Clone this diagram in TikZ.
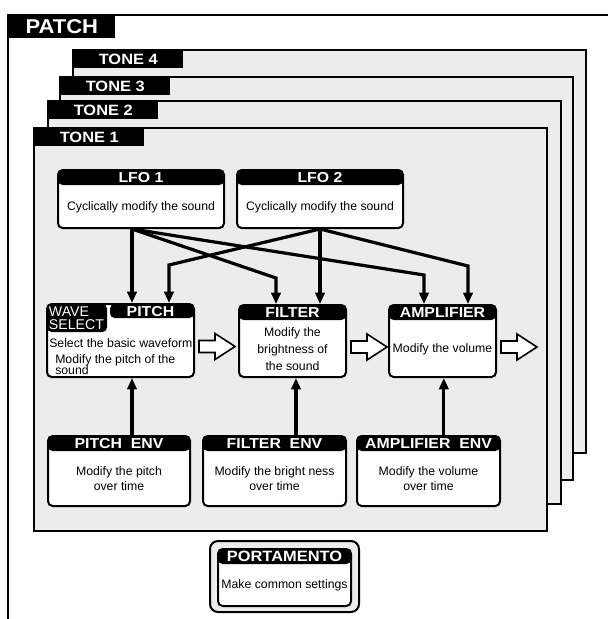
\documentclass[tikz,border=0pt]{standalone}
\usepackage{fontspec}
\setmainfont{Liberation Sans}
\newfontfamily\headfont{Liberation Sans}[FakeStretch=1.1]
\usetikzlibrary{arrows.meta}
\definecolor{tonegrey}{HTML}{ECECEC}

\begin{document}
\begin{tikzpicture}[
        x=0.75pt, y=-0.75pt,
        frame/.style={line width=1.5pt},
        tonebox/.style={draw, line width=1.5pt, fill=tonegrey},
        tonelabel/.style={anchor=north west, fill=black, text=white, inner sep=0pt,
            minimum width=82.5pt, minimum height=13.5pt,
            font=\headfont\bfseries\fontsize{11.2}{13}\selectfont},
        module/.style={draw, line width=1.5pt, fill=white, rounded corners=3.5pt, inner sep=0pt,
            path picture={\fill[black] (path picture bounding box.north west) rectangle ([yshift=-11.25pt]path picture bounding box.north east);}},
        head/.style={anchor=north, inner sep=0pt, minimum height=12pt, text=white,
            font=\headfont\bfseries\fontsize{10.8}{12}\selectfont},
        body/.style={anchor=center, yshift=-6pt, inner sep=0pt, align=center,
            font=\fontsize{9.2}{11.25}\selectfont},
        wavetext/.style={anchor=north west, xshift=2pt, yshift=-2.5pt, inner sep=0pt, align=left,
            text=white, font=\fontsize{10.6}{9.75}\selectfont},
        pitchbody/.style={anchor=north west, xshift=2.25pt, yshift=-26.5pt, inner sep=0pt, align=left,
            font=\fontsize{9.2}{12}\selectfont},
        lfoarrow/.style={line width=2.4pt, -{Triangle[width=7pt,length=8.5pt]}},
        hollowarrow/.style={draw, line width=1.2pt, fill=white, line join=miter}
    ]
    \useasboundingbox (0,0) rectangle (608,619);

    \draw[frame] (608,15) -- (8,15) -- (8,619);
    \node[tonelabel, minimum width=80.25pt, minimum height=17.25pt,
        font=\headfont\bfseries\fontsize{15}{17}\selectfont] (patch) at (8,15) {PATCH};

    \foreach \n/\l/\t/\r/\b in {4/73/50/586/453, 3/60/77/573/480, 2/48/101/561/504, 1/34/128/547/531} {
        \draw[tonebox] (\l,\t) rectangle (\r,\b);
        \node[tonelabel] (tone\n) at (\l,\t) {TONE \n};
    }

    \node[module, minimum width=124.5pt, minimum height=43.5pt,
        label={[head]north:LFO 1},
        label={[body]center:Cyclically modify the sound}] (lfo1) at (141,199) {};
    \node[module, minimum width=124.5pt, minimum height=43.5pt,
        label={[head]north:LFO 2},
        label={[body]center:Cyclically modify the sound}] (lfo2) at (320,199) {};

    \node[module, minimum width=110.25pt, minimum height=54.75pt,
        path picture={
            \fill[black] (path picture bounding box.north west) rectangle ([xshift=45pt, yshift=-21pt]path picture bounding box.north west);
            \fill[black] ([xshift=47.25pt]path picture bounding box.north west) rectangle ([yshift=-10.5pt]path picture bounding box.north east);},
        label={[head, xshift=22.5pt]north:PITCH},
        label={[wavetext]north west:WAVE\\SELECT},
        label={[pitchbody]north west:Select the basic waveform\\\hspace*{4.5pt}Modify the pitch of the\\[-3.5pt]\hspace*{4.5pt}sound}] (pitch) at (120.5,340.5) {};
    \node[module, minimum width=80.25pt, minimum height=54pt,
        label={[head]north:FILTER},
        label={[body, font=\fontsize{9.2}{12.75}\selectfont]center:Modify the\\brightness of\\the sound}] (filter) at (292.5,341) {};
    \node[module, minimum width=80.25pt, minimum height=54pt,
        label={[head]north:AMPLIFIER},
        label={[body]center:Modify the volume}] (amp) at (442.5,341) {};

    \node[module, minimum width=106.5pt, minimum height=52.5pt,
        label={[head]north:PITCH~~ENV},
        label={[body]center:Modify the pitch\\over time}] (pitchenv) at (119,471) {};
    \node[module, minimum width=107.25pt, minimum height=52.5pt,
        label={[head]north:FILTER~~ENV},
        label={[body]center:Modify the bright ness\\over time}] (filterenv) at (274.5,471) {};
    \node[module, minimum width=107.25pt, minimum height=52.5pt,
        label={[head]north:AMPLIFIER~~ENV},
        label={[body]center:Modify the volume\\over time}] (ampenv) at (428.5,471) {};

    \node[draw, line width=1.5pt, fill=tonegrey, rounded corners=6pt,
        minimum width=111.75pt, minimum height=53.25pt] (portaframe) at (284.5,576.5) {};
    \node[module, minimum width=99.75pt, minimum height=42.75pt,
        label={[head, font=\headfont\bfseries\fontsize{11.2}{13}\selectfont]north:PORTAMENTO},
        label={[body]center:Make common settings}] (porta) at (284.5,577.5) {};

    \coordinate (l1) at ([xshift=-6.75pt]lfo1.south);
    \coordinate (l2) at (lfo2.south);
    \coordinate (b1) at (276,278);
    \coordinate (b2) at (424,275);
    \coordinate (b3) at (169,265);
    \coordinate (b4) at (468,266);
    \draw[lfoarrow] (l1) -- (l1 |- pitch.north);
    \draw[lfoarrow] (l1) -- (b1) -- (b1 |- filter.north);
    \draw[lfoarrow] (l1) -- (b2) -- (b2 |- amp.north);
    \draw[lfoarrow] (l2) -- (b3) -- (b3 |- pitch.north);
    \draw[lfoarrow] (l2) -- (l2 |- filter.north);
    \draw[lfoarrow] (l2) -- (b4) -- (b4 |- amp.north);

    \draw[lfoarrow] (l1 |- pitchenv.north) -- (l1 |- pitch.south);
    \draw[lfoarrow] ([xshift=2.6pt]filter.south |- filterenv.north) -- ([xshift=2.6pt]filter.south);
    \draw[lfoarrow] ([xshift=1pt]amp.south |- ampenv.north) -- ([xshift=1pt]amp.south);

    \foreach \m in {pitch, filter, amp}
        \draw[hollowarrow] ([xshift=3pt]\m.east) -- ++(16,0) -- ++(0,-7) -- ++(20,13)
            -- ++(-20,13) -- ++(0,-7) -- ++(-16,0) -- cycle;
\end{tikzpicture}
\end{document}
